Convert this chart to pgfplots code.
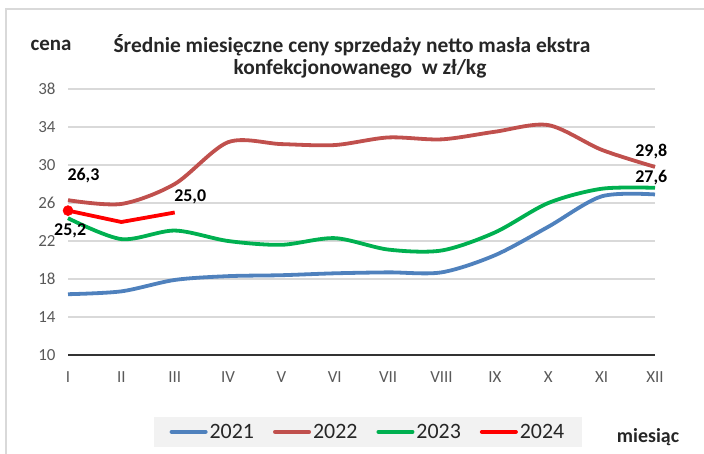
\documentclass[border=0pt]{standalone}
\usepackage{pgfplots}
\pgfplotsset{compat=1.18}
\usepackage{fontspec}
\setmainfont{Carlito}
\definecolor{c21}{HTML}{4F81BD}
\definecolor{c22}{HTML}{C0504D}
\definecolor{c23}{HTML}{00B050}
\definecolor{c24}{HTML}{FF0000}
\definecolor{tickgray}{HTML}{595959}
\definecolor{gridgray}{HTML}{D9D9D9}
\begin{document}
\begin{tikzpicture}[x=1bp,y=1bp]
\useasboundingbox (0,0) rectangle (704,-454);
\draw[gridgray, line width=1.2bp] (6,-454) -- (6,-9) -- (704,-9);
\begin{axis}[
  at={(68bp,-355bp)}, anchor=south west,
  scale only axis, width=587bp, height=266bp,
  xmin=1, xmax=12, ymin=10, ymax=38,
  xtick={1,...,12},
  xticklabels={I,II,III,IV,V,VI,VII,VIII,IX,X,XI,XII},
  ytick={14,18,...,38},
  extra y ticks={10},
  extra y tick style={grid style={draw=black!80, line width=2.6bp}},
  ymajorgrids, grid style={draw=gridgray, line width=1.3bp},
  axis line style={draw=none},
  major tick length=0pt,
  tick label style={font=\fontsize{17}{19}\selectfont, text=tickgray},
  /pgf/number format/assume math mode=true,
  xticklabel style={yshift=-13bp},
  yticklabel style={xshift=-9bp},
  clip=false,
  legend columns=4,
  legend style={at={(0.511,-0.289)}, anchor=center, fill=black!5, draw=none,
    font=\fontsize{22}{24}\selectfont, text=black!85,
    inner xsep=16bp, inner ysep=5bp,
    /tikz/every even column/.append style={column sep=17bp}},
  legend image code/.code={\draw[#1, line width=4bp, line cap=round] (0bp,0bp) -- (34bp,0bp);},
]
\addplot[c21, line width=3.8bp, smooth, tension=0.5] coordinates {
(1,16.4) (2,16.7) (3,17.9) (4,18.3) (5,18.4) (6,18.6) (7,18.7) (8,18.7) (9,20.5) (10,23.5) (11,26.7) (12,26.9)};
\addlegendentry{2021}
\addplot[c22, line width=3.8bp, smooth, tension=0.5] coordinates {
(1,26.3) (2,25.9) (3,28.0) (4,32.4) (5,32.2) (6,32.1) (7,32.9) (8,32.7) (9,33.5) (10,34.2) (11,31.6) (12,29.8)};
\addlegendentry{2022}
\addplot[c23, line width=3.8bp, smooth, tension=0.5] coordinates {
(1,24.4) (2,22.2) (3,23.1) (4,22.0) (5,21.6) (6,22.3) (7,21.1) (8,21.0) (9,22.9) (10,26.0) (11,27.5) (12,27.6)};
\addlegendentry{2023}
\addplot[c24, line width=3.8bp, mark=*, mark indices={1}, mark size=5bp, mark options={fill=c24, draw=c24, line width=0.5bp}] coordinates {
(1,25.2) (2,24.0) (3,25.0)};
\addlegendentry{2024}
\node[font=\fontsize{18}{20}\selectfont\bfseries] at (axis cs:1.29,28.9) {26,3};
\node[font=\fontsize{18}{20}\selectfont\bfseries] at (axis cs:1.04,23.1) {25,2};
\node[font=\fontsize{18}{20}\selectfont\bfseries] at (axis cs:3.29,26.7) {25,0};
\node[font=\fontsize{18}{20}\selectfont\bfseries] at (axis cs:11.93,31.4) {29,8};
\node[font=\fontsize{18}{20}\selectfont\bfseries] at (axis cs:11.93,28.7) {27,6};
\end{axis}
\node[font=\fontsize{21}{23}\selectfont\bfseries, text=black!85] at (51,-45) {cena};
\node[font=\fontsize{21.5}{23}\selectfont\bfseries, text=black!85] at (352,-45) {Średnie miesięczne ceny sprzedaży netto masła ekstra};
\node[font=\fontsize{21.5}{23}\selectfont\bfseries, text=black!85] at (360,-69) {konfekcjonowanego~ w zł/kg};
\node[font=\fontsize{20}{22}\selectfont\bfseries, text=black!85] at (648,-437) {miesiąc};
\end{tikzpicture}
\end{document}
